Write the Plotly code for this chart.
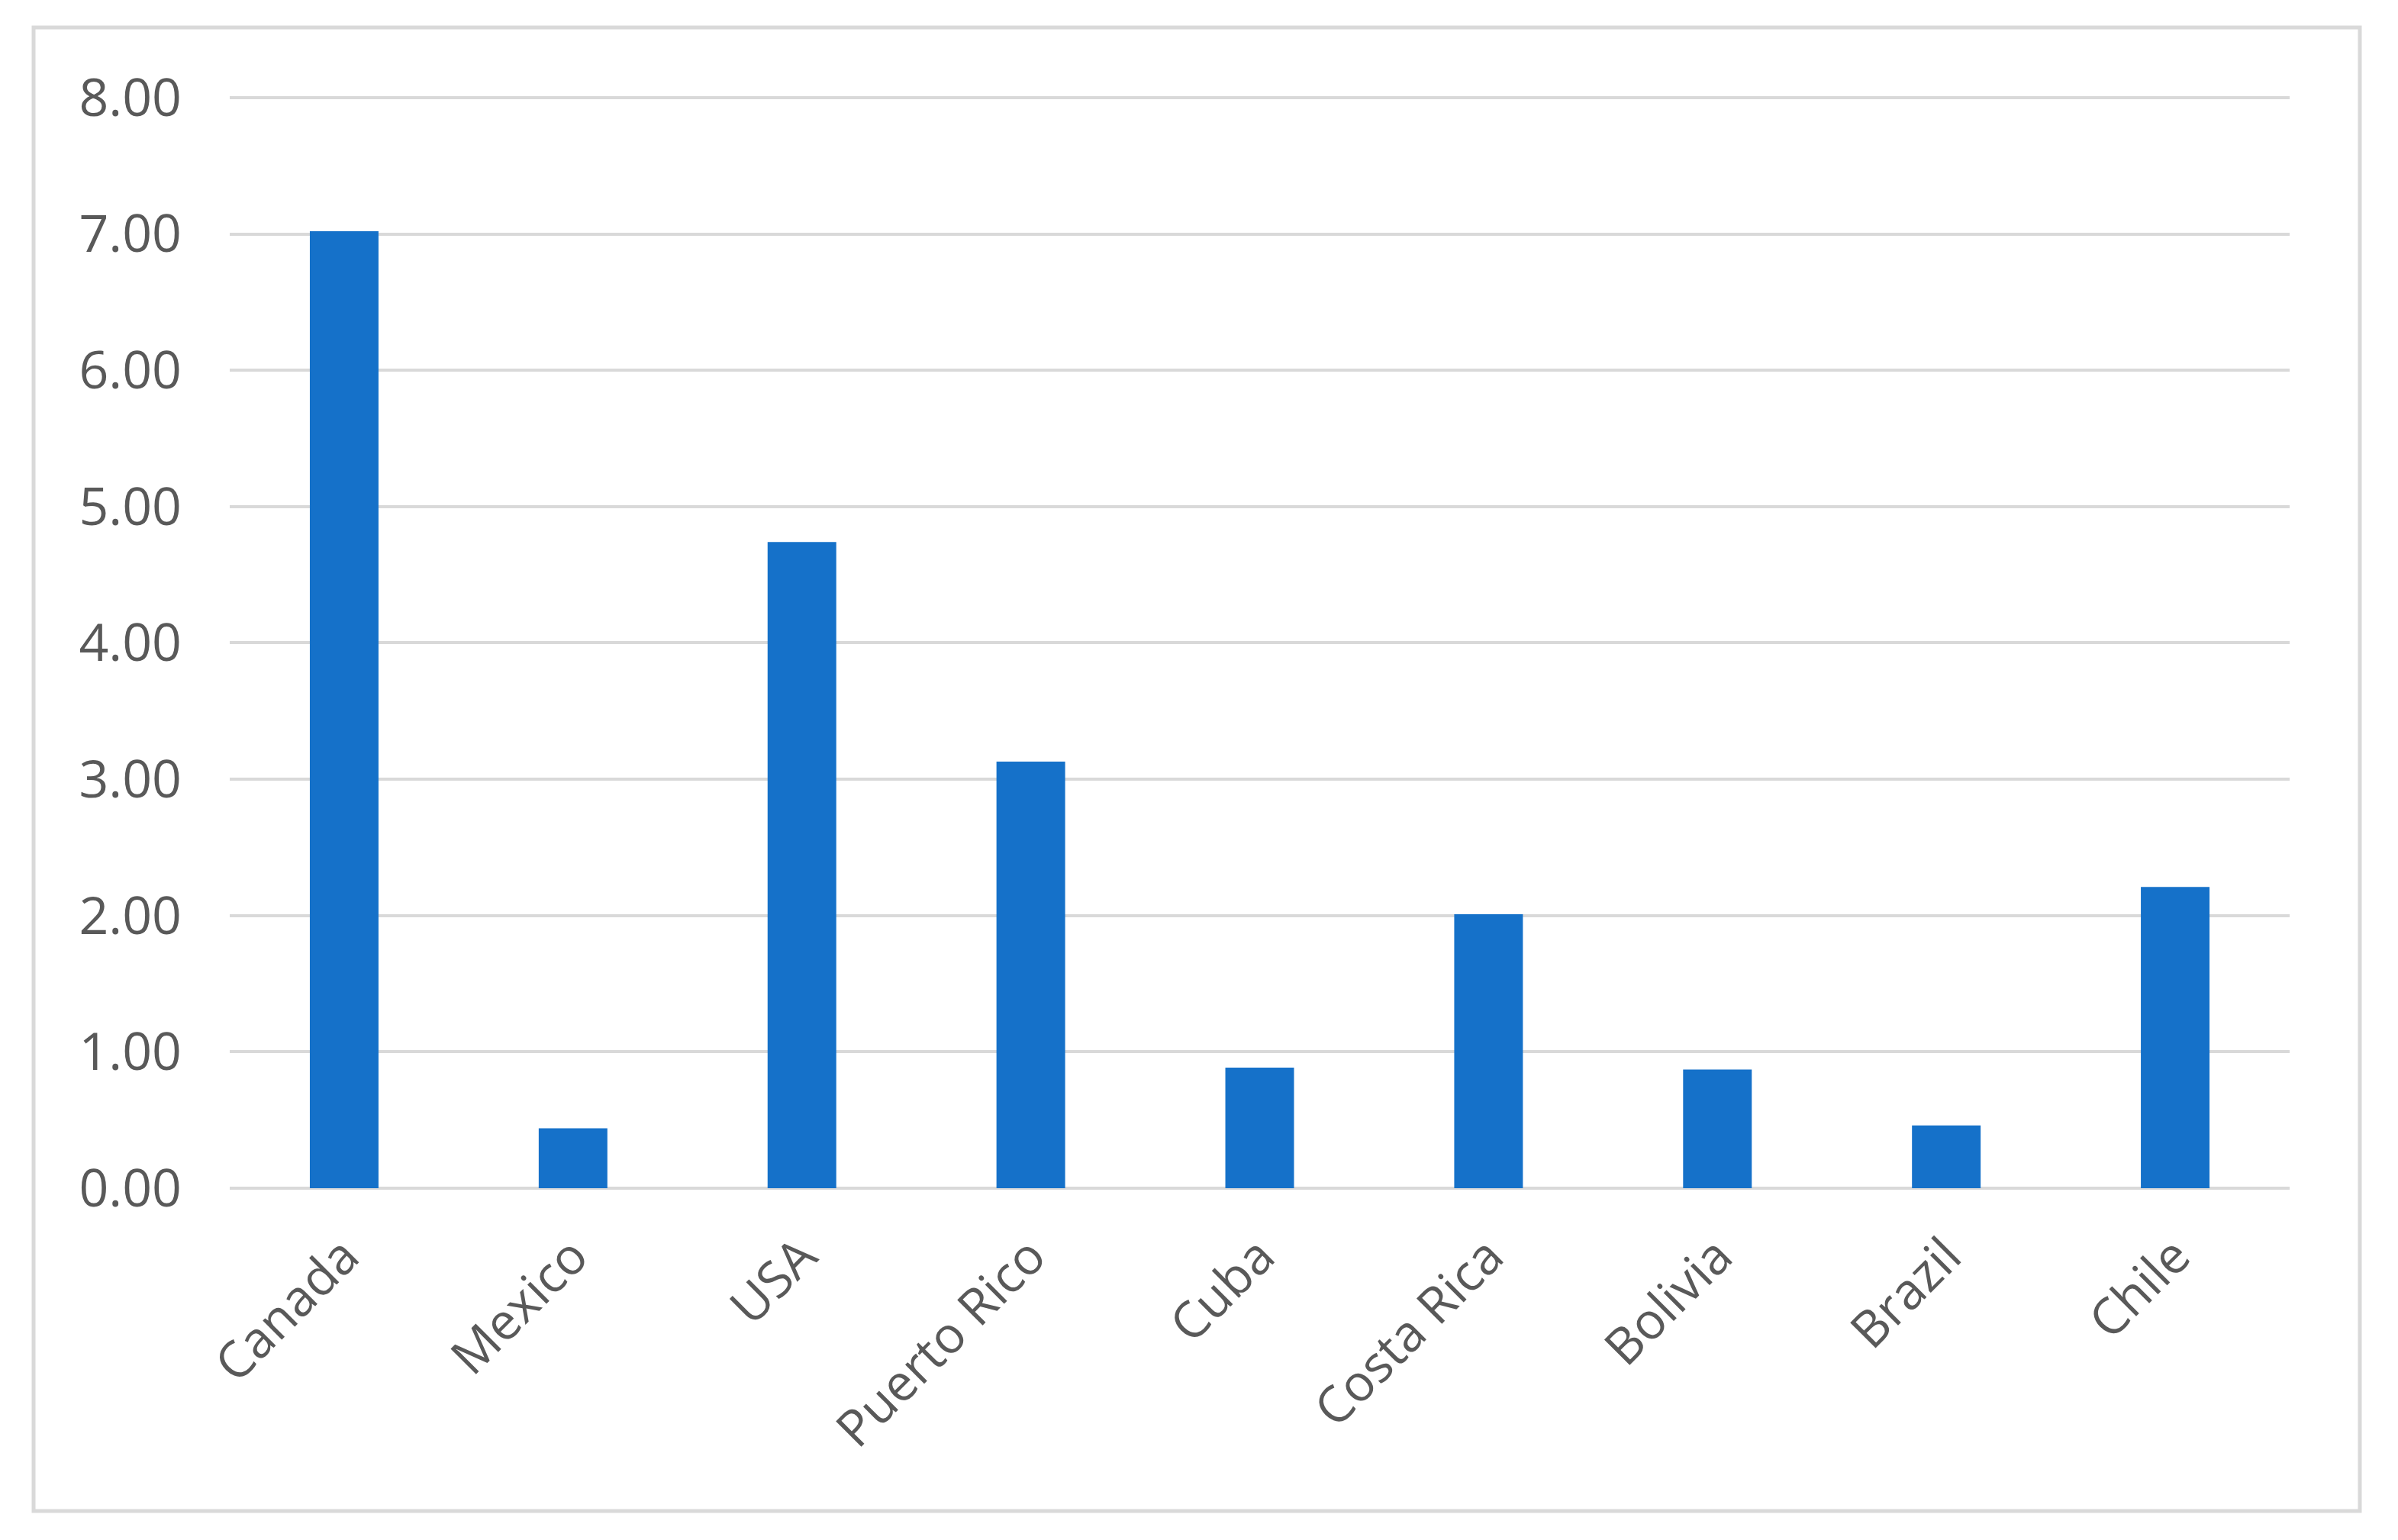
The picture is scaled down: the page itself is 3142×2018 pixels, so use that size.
import plotly.graph_objects as go

countries = ["Canada", "Mexico", "USA", "Puerto Rico", "Cuba",
             "Costa Rica", "Bolivia", "Brazil", "Chile"]
values = [7.02, 0.44, 4.74, 3.13, 0.885, 2.01, 0.87, 0.46, 2.21]
y_ticks = [0, 1, 2, 3, 4, 5, 6, 7, 8]

# the html page puts an 8px body margin round the figure
PAD = 8
W, H = 3142 - 2 * PAD, 2018 - 2 * PAD

# where 0 and 8 sit on screen, and the x extent of the plot
y0_px, y8_px = 1557 - PAD, 128 - PAD
left, right = 301 - PAD, 3000 - PAD
unit = (y0_px - y8_px) / 8
y_max = 8.05  # a bit of headroom so the 8.00 gridline is drawn
top = round(y0_px - y_max * unit)
bottom = y0_px

# outer chart border in pixels
bx0, bx1, by0, by1 = 44 - PAD, 3092 - PAD, 36 - PAD, 1980 - PAD

pw = right - left
ph = bottom - top

fig = go.Figure(
    go.Bar(
        x=countries,
        y=values,
        marker=dict(color="#1571c9", line=dict(width=0)),
    )
)

fig.update_layout(
    width=W,
    height=H,
    margin=dict(l=left, r=W - right, t=top, b=H - bottom, autoexpand=False),
    paper_bgcolor="white",
    plot_bgcolor="white",
    bargap=0.7,
    showlegend=False,
    font=dict(family="Open Sans, Noto Sans, sans-serif", size=66, color="#595959"),
    shapes=[
        dict(
            type="rect", xref="paper", yref="paper",
            x0=(bx0 - left) / pw, x1=(bx1 - left) / pw,
            y0=(bottom - by1) / ph, y1=(bottom - by0) / ph,
            line=dict(color="#d9d9d9", width=5),
            fillcolor="rgba(0,0,0,0)",
            layer="below",
        )
    ],
)

fig.update_xaxes(
    tickangle=-45,
    showgrid=False,
    showline=False,
    ticks="",
    ticklabelstandoff=36,
    tickfont=dict(size=66, color="#595959"),
)

fig.update_yaxes(
    range=[0, y_max],
    tickvals=y_ticks,
    tickformat=".2f",
    showgrid=True,
    gridcolor="#d9d9d9",
    gridwidth=4,
    zeroline=True,
    zerolinecolor="#d9d9d9",
    zerolinewidth=4,
    showline=False,
    ticks="",
    ticklabelstandoff=62,
    tickfont=dict(size=68, color="#595959"),
)

fig.write_html("out.html")
